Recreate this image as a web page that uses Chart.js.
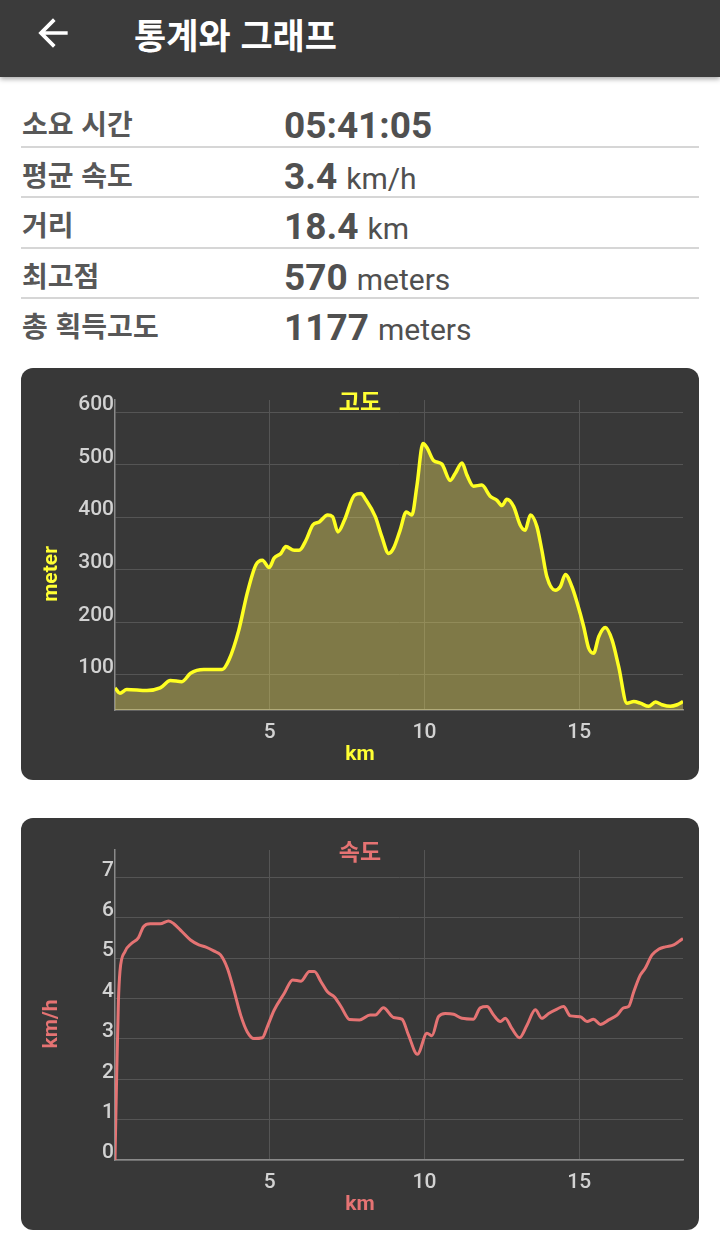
<!DOCTYPE html>
<html lang="ko">
<head>
<meta charset="utf-8">
<title>통계와 그래프</title>
<script src="https://cdn.jsdelivr.net/npm/chart.js@4.4.1/dist/chart.umd.min.js"></script>
<style>
  body { margin: 0; width: 720px; height: 1250px; background: #fff; overflow: hidden;
         font-family: Roboto, "Noto Sans CJK KR", sans-serif; }
  .bar { position: absolute; left: 0; top: 0; width: 720px; height: 77px; background: #3b3b3b;
         box-shadow: 0 2px 5px rgba(0,0,0,.35); }
  .bar svg { position: absolute; left: 31px; top: 11px; }
  .bar h1 { position: absolute; left: 134px; top: 0; margin: 0; line-height: 68px; font-size: 35px;
            color: #fff; font-weight: bold; font-family: "Noto Sans CJK KR", sans-serif; }
  .stats { position: absolute; left: 21px; top: 97px; width: 678px; }
  .row { position: relative; height: 48.6px; border-bottom: 2px solid #d6d6d6; }
  .row:last-child { border-bottom: none; }
  .lbl { position: absolute; left: 1px; top: 11px; font-size: 28px; font-weight: bold; color: #585858;
         line-height: 30px; font-family: "Noto Sans CJK KR", sans-serif; }
  .val { position: absolute; left: 263px; top: 9px; color: #505050; white-space: nowrap; line-height: 40px; }
  .val b { font-size: 37px; }
  .val span { font-size: 30px; margin-left: 9px; }
  .card { position: absolute; left: 21px; width: 678px; height: 412px; background: #383838; border-radius: 12px; }
</style>
</head>
<body>
<div class="bar">
  <svg width="44" height="44" viewBox="0 0 24 24"><path fill="#fff" d="M20 11H7.83l5.59-5.59L12 4l-8 8 8 8 1.41-1.41L7.83 13H20v-2z"/></svg>
  <h1>통계와 그래프</h1>
</div>

<div class="stats">
  <div class="row"><div class="lbl">소요 시간</div><div class="val"><b>05:41:05</b></div></div>
  <div class="row"><div class="lbl">평균 속도</div><div class="val"><b>3.4</b><span>km/h</span></div></div>
  <div class="row"><div class="lbl">거리</div><div class="val"><b>18.4</b><span>km</span></div></div>
  <div class="row"><div class="lbl">최고점</div><div class="val"><b>570</b><span>meters</span></div></div>
  <div class="row"><div class="lbl">총 획득고도</div><div class="val"><b>1177</b><span>meters</span></div></div>
</div>

<div class="card" style="top:368px"><canvas id="elevChart"></canvas></div>
<div class="card" style="top:818px"><canvas id="speedChart"></canvas></div>

<script>
// distance axis (km)
const xTicks = [5, 10, 15];
const xMax = 18.35;

// elevation profile
const elevKm = [0, 0.16, 0.38, 1.03, 1.46, 1.79, 2.16, 2.44, 2.87, 3.46, 3.68, 4.0, 4.27, 4.55, 4.76,
  4.98, 5.14, 5.36, 5.52, 5.79, 5.95, 6.17, 6.39, 6.6, 6.87, 7.03, 7.2, 7.41, 7.74, 7.95,
  8.08, 8.41, 8.62, 8.84, 9.0, 9.21, 9.41, 9.59, 9.75, 9.95, 10.08, 10.29, 10.56, 10.83, 10.99,
  11.21, 11.37, 11.58, 11.85, 12.12, 12.34, 12.5, 12.66, 12.88, 13.09, 13.25, 13.42, 13.63, 13.79, 13.95,
  14.22, 14.39, 14.55, 14.76, 14.92, 15.14, 15.3, 15.46, 15.63, 15.84, 16.06, 16.27, 16.54, 16.76, 16.97,
  17.24, 17.46, 17.67, 17.94, 18.16, 18.35];
const elevM = [75, 65, 72, 70, 75, 89, 87, 103, 110, 110, 128, 185, 255, 309, 318,
  304, 322, 331, 344, 337, 337, 356, 385, 391, 404, 401, 372, 394, 442, 445,
  435, 401, 363, 331, 341, 375, 410, 404, 458, 540, 532, 508, 501, 470, 483,
  503, 480, 459, 461, 440, 432, 422, 434, 420, 385, 375, 404, 382, 337, 287,
  261, 268, 291, 268, 239, 192, 151, 141, 173, 190, 166, 116, 46, 49, 46,
  40, 48, 43, 40, 43, 49];
const elevTicks = [100, 200, 300, 400, 500, 600];

// speed profile
const speedKm = [0, 0.05, 0.11, 0.16, 0.32, 0.54, 0.76, 0.92, 1.14, 1.46, 1.73, 1.89, 2.16, 2.44, 2.71,
  2.92, 3.19, 3.41, 3.63, 3.84, 4.06, 4.27, 4.49, 4.76, 4.92, 5.14, 5.47, 5.74, 6.01, 6.28,
  6.44, 6.66, 6.87, 7.09, 7.31, 7.58, 7.9, 8.24, 8.41, 8.67, 9.0, 9.27, 9.48, 9.77, 10.08,
  10.24, 10.45, 10.67, 10.94, 11.21, 11.58, 11.8, 12.02, 12.23, 12.45, 12.61, 12.82, 13.07, 13.31, 13.58,
  13.79, 14.01, 14.28, 14.49, 14.71, 15.03, 15.25, 15.46, 15.68, 15.95, 16.22, 16.43, 16.59, 16.76, 16.97,
  17.13, 17.35, 17.56, 17.78, 18.05, 18.21, 18.35];
const speedKmh = [0, 1.94, 3.92, 4.67, 5.16, 5.37, 5.51, 5.78, 5.85, 5.85, 5.92, 5.86, 5.66, 5.45, 5.33,
  5.28, 5.18, 5.08, 4.75, 4.21, 3.59, 3.18, 3.01, 3.03, 3.3, 3.71, 4.13, 4.46, 4.43, 4.67,
  4.67, 4.41, 4.16, 4.04, 3.79, 3.48, 3.47, 3.59, 3.59, 3.77, 3.53, 3.49, 3.1, 2.62, 3.14,
  3.08, 3.55, 3.63, 3.61, 3.51, 3.49, 3.77, 3.8, 3.59, 3.43, 3.51, 3.26, 3.03, 3.34, 3.72,
  3.51, 3.63, 3.74, 3.8, 3.57, 3.55, 3.43, 3.49, 3.36, 3.47, 3.59, 3.77, 3.8, 4.17, 4.58,
  4.75, 5.08, 5.22, 5.28, 5.33, 5.41, 5.49];
const speedTicks = [0, 1, 2, 3, 4, 5, 6, 7];

Chart.defaults.font.family = 'Roboto, "Noto Sans CJK KR", sans-serif';

const GRID = '#555555';
const AXIS = '#8a8a8a';
const TICK = '#d2d2d2';
const tickFont = { size: 21, weight: '500' };

// chart title + axis titles are centred on the whole card, not the plot area
const cardText = {
  id: 'cardText',
  afterDraw(chart, args, o) {
    const { ctx, width, height } = chart;
    ctx.save();
    ctx.fillStyle = o.color;
    ctx.textAlign = 'center';
    ctx.textBaseline = 'middle';
    ctx.font = 'bold 23px "Noto Sans CJK KR"';
    ctx.fillText(o.title, width / 2, 33);
    ctx.font = 'bold 21px Roboto';
    ctx.fillText(o.xTitle, width / 2, height - 25);
    ctx.translate(31, height / 2);
    ctx.rotate(-Math.PI / 2);
    ctx.fillText(o.yTitle, 0, 0);
    ctx.restore();
  }
};

function scales(yMin, yMax, yTicks) {
  return {
    x: {
      type: 'linear', min: 0, max: xMax,
      afterBuildTicks: s => { s.ticks = xTicks.map(v => ({ value: v })); },
      afterFit: s => { s.height = 70; },
      grid: { color: GRID, drawTicks: false },
      border: { color: AXIS, width: 1.5 },
      ticks: { color: TICK, font: tickFont, padding: 10, maxRotation: 0 }
    },
    y: {
      type: 'linear', min: yMin, max: yMax,
      afterBuildTicks: s => { s.ticks = yTicks.map(v => ({ value: v })); },
      afterFit: s => { s.width = 94; },
      grid: { color: GRID, drawTicks: false },
      border: { color: AXIS, width: 1.5 },
      ticks: { color: TICK, font: tickFont, padding: 1, labelOffset: -7 }
    }
  };
}

function baseOptions(yMin, yMax, yTicks, text) {
  return {
    responsive: true,
    maintainAspectRatio: false,
    animation: false,
    layout: { padding: { top: 32, right: 16, left: 0, bottom: 0 } },
    plugins: { legend: { display: false }, tooltip: { enabled: false }, cardText: text },
    elements: { point: { radius: 0 } },
    scales: scales(yMin, yMax, yTicks)
  };
}

new Chart(document.getElementById('elevChart'), {
  type: 'line',
  data: {
    datasets: [{
      label: '고도',
      data: elevKm.map((k, i) => ({ x: k, y: elevM[i] })),
      borderColor: '#ffff22',
      borderWidth: 3.5,
      backgroundColor: 'rgba(235, 220, 95, 0.4)',
      fill: 'start',
      cubicInterpolationMode: 'monotone'
    }]
  },
  options: baseOptions(33, 623, elevTicks, { title: '고도', xTitle: 'km', yTitle: 'meter', color: '#ffff33' }),
  plugins: [cardText]
});

new Chart(document.getElementById('speedChart'), {
  type: 'line',
  data: {
    datasets: [{
      label: '속도',
      data: speedKm.map((k, i) => ({ x: k, y: speedKmh[i] })),
      borderColor: '#e57373',
      borderWidth: 3,
      fill: false,
      cubicInterpolationMode: 'monotone'
    }]
  },
  options: baseOptions(0, 7.68, speedTicks, { title: '속도', xTitle: 'km', yTitle: 'km/h', color: '#e57373' }),
  plugins: [cardText]
});
</script>
</body>
</html>
